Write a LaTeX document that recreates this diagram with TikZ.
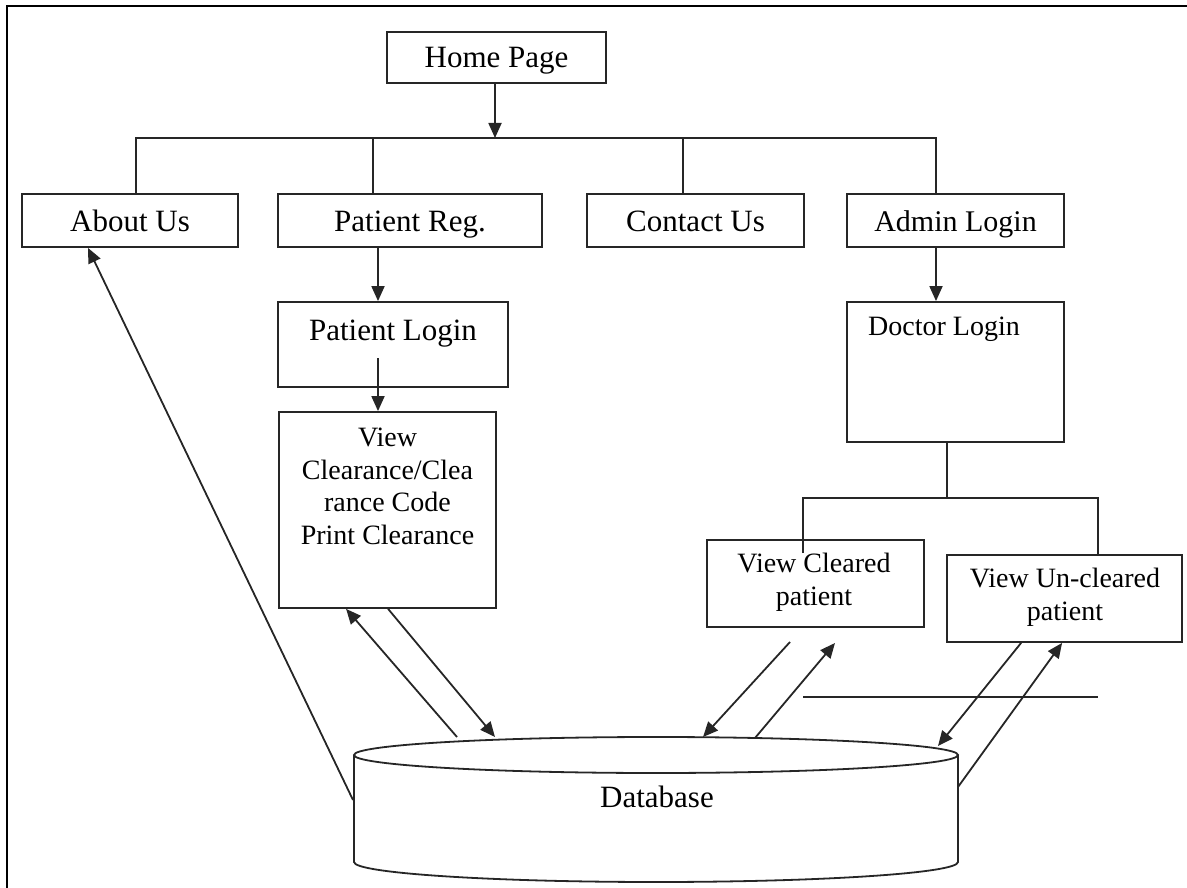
\documentclass[tikz,border=0pt]{standalone}
\usepackage{fontspec}
\setmainfont{Liberation Serif}
\usetikzlibrary{arrows.meta,calc}
\tikzset{
  ln/.style={line width=1.8pt, draw=black!85},
  box/.style={ln, rectangle, inner sep=0pt, text height=21pt, text depth=0pt,
              font=\fontsize{31}{34}\selectfont},
  txtbig/.style={inner sep=0pt, font=\fontsize{31}{34}\selectfont},
  txtsmall/.style={inner sep=0pt, align=center, font=\fontsize{28}{32.5}\selectfont},
  conn/.style={ln},
  arr/.style={ln, -{Triangle[length=15pt,width=13pt]}},
}
\begin{document}
\begin{tikzpicture}[x=1pt,y=-1pt]
\useasboundingbox (0,0) rectangle (1187,888);
% outer frame (only left and top edges visible)
\draw[line width=2.2pt, draw=black] (7,888) -- (7,6) -- (1187,6);

% top level
\node[box, minimum width=219pt, minimum height=51pt] (home) at (496.5,57.5) {Home Page};
\node[box, minimum width=216pt, minimum height=53pt] (about) at (130,220.5) {About Us};
\node[box, minimum width=264pt, minimum height=53pt] (preg) at (410,220.5) {Patient Reg.};
\node[box, minimum width=217pt, minimum height=53pt] (contact) at (695.5,220.5) {Contact Us};
\node[box, minimum width=217pt, minimum height=53pt, font=\fontsize{30}{34}\selectfont] (admin) at (955.5,220.5) {Admin Login};

% patient side
\node[box, minimum width=230pt, minimum height=85pt] (plogin) at (393,344.5) {};
\node[txtbig, anchor=base] (plogintxt) at (393,340) {Patient Login};
\node[box, minimum width=217pt, minimum height=196pt] (vclear) at (387.5,510) {};
\node[txtsmall] (vcleartxt) at (387.5,486.5) {View\\Clearance/Clea\\rance Code\\Print Clearance};

% admin side
\node[box, minimum width=217pt, minimum height=140pt] (doctor) at (955.5,372) {};
\node[txtsmall, anchor=base west] (doctortxt) at (868,335) {Doctor Login};
\node[box, minimum width=217pt, minimum height=87pt] (vcleared) at (815.5,583.5) {};
\node[txtsmall] (vclearedtxt) at (814,582.5) {View Cleared\\patient};
\node[box, minimum width=235pt, minimum height=87pt] (vunclr) at (1064.5,598.5) {};
\node[txtsmall] (vunclrtxt) at (1065,597.5) {View Un-cleared\\patient};

% database cylinder
\draw[ln, fill=white] (354,755) -- (354,862)
  arc[start angle=180, end angle=360, x radius=302pt, y radius=20pt] -- (958,755);
\draw[ln] (656,755) ellipse [x radius=302pt, y radius=18pt];
\node[txtbig, anchor=base] (db) at (657,807) {Database};

% tree from home page
\coordinate (b1) at (136,138);
\coordinate (b2) at (373,138);
\coordinate (b3) at (683,138);
\coordinate (b4) at (936,138);
\draw[arr] (home.south -| 495,0) -- (495,138);
\draw[conn] (about.north -| b1) -- (b1) -- (b4) -- (admin.north -| b4);
\draw[conn] (b2) -- (preg.north -| b2);
\draw[conn] (b3) -- (contact.north -| b3);

% patient chain
\coordinate (c1) at (378,0);
\draw[arr] (preg.south -| c1) -- (plogin.north -| c1);
\coordinate (c2) at (378,358);
\draw[arr] (c2) -- (vclear.north -| c2);

% admin chain
\coordinate (c3) at (936,0);
\draw[arr] (admin.south -| c3) -- (doctor.north -| c3);
\coordinate (d1) at (947,498);
\coordinate (d2) at (803,498);
\coordinate (d3) at (1098,498);
\coordinate (d2e) at (803,553);
\draw[conn] (doctor.south -| d1) -- (d1);
\draw[conn] (d2e) -- (d2) -- (d3) -- (vunclr.north -| d3);

% free horizontal line
\coordinate (h1) at (803,697);
\coordinate (h2) at (1098,697);
\draw[conn] (h1) -- (h2);

% database connections
\coordinate (dbw) at (353,800);
\draw[arr] (dbw) -- ($(about.south)+(-42,0)$);

\coordinate (e1) at (457,737);
\coordinate (e2) at (495,737);
\draw[arr] (e1) -- ($(vclear.south west)+(68,0)$);
\draw[arr] ($(vclear.south west)+(110,0)$) -- (e2);

\coordinate (f1) at (790,642);
\coordinate (f2) at (703,737);
\coordinate (f3) at (755,738);
\coordinate (f4) at (835,643);
\draw[arr] (f1) -- (f2);
\draw[arr] (f3) -- (f4);

\coordinate (g2) at (938,746);
\coordinate (g3) at (958,787);
\draw[arr] ($(vunclr.south west)+(75,0)$) -- (g2);
\draw[arr] (g3) -- ($(vunclr.south west)+(116,0)$);
\end{tikzpicture}
\end{document}
